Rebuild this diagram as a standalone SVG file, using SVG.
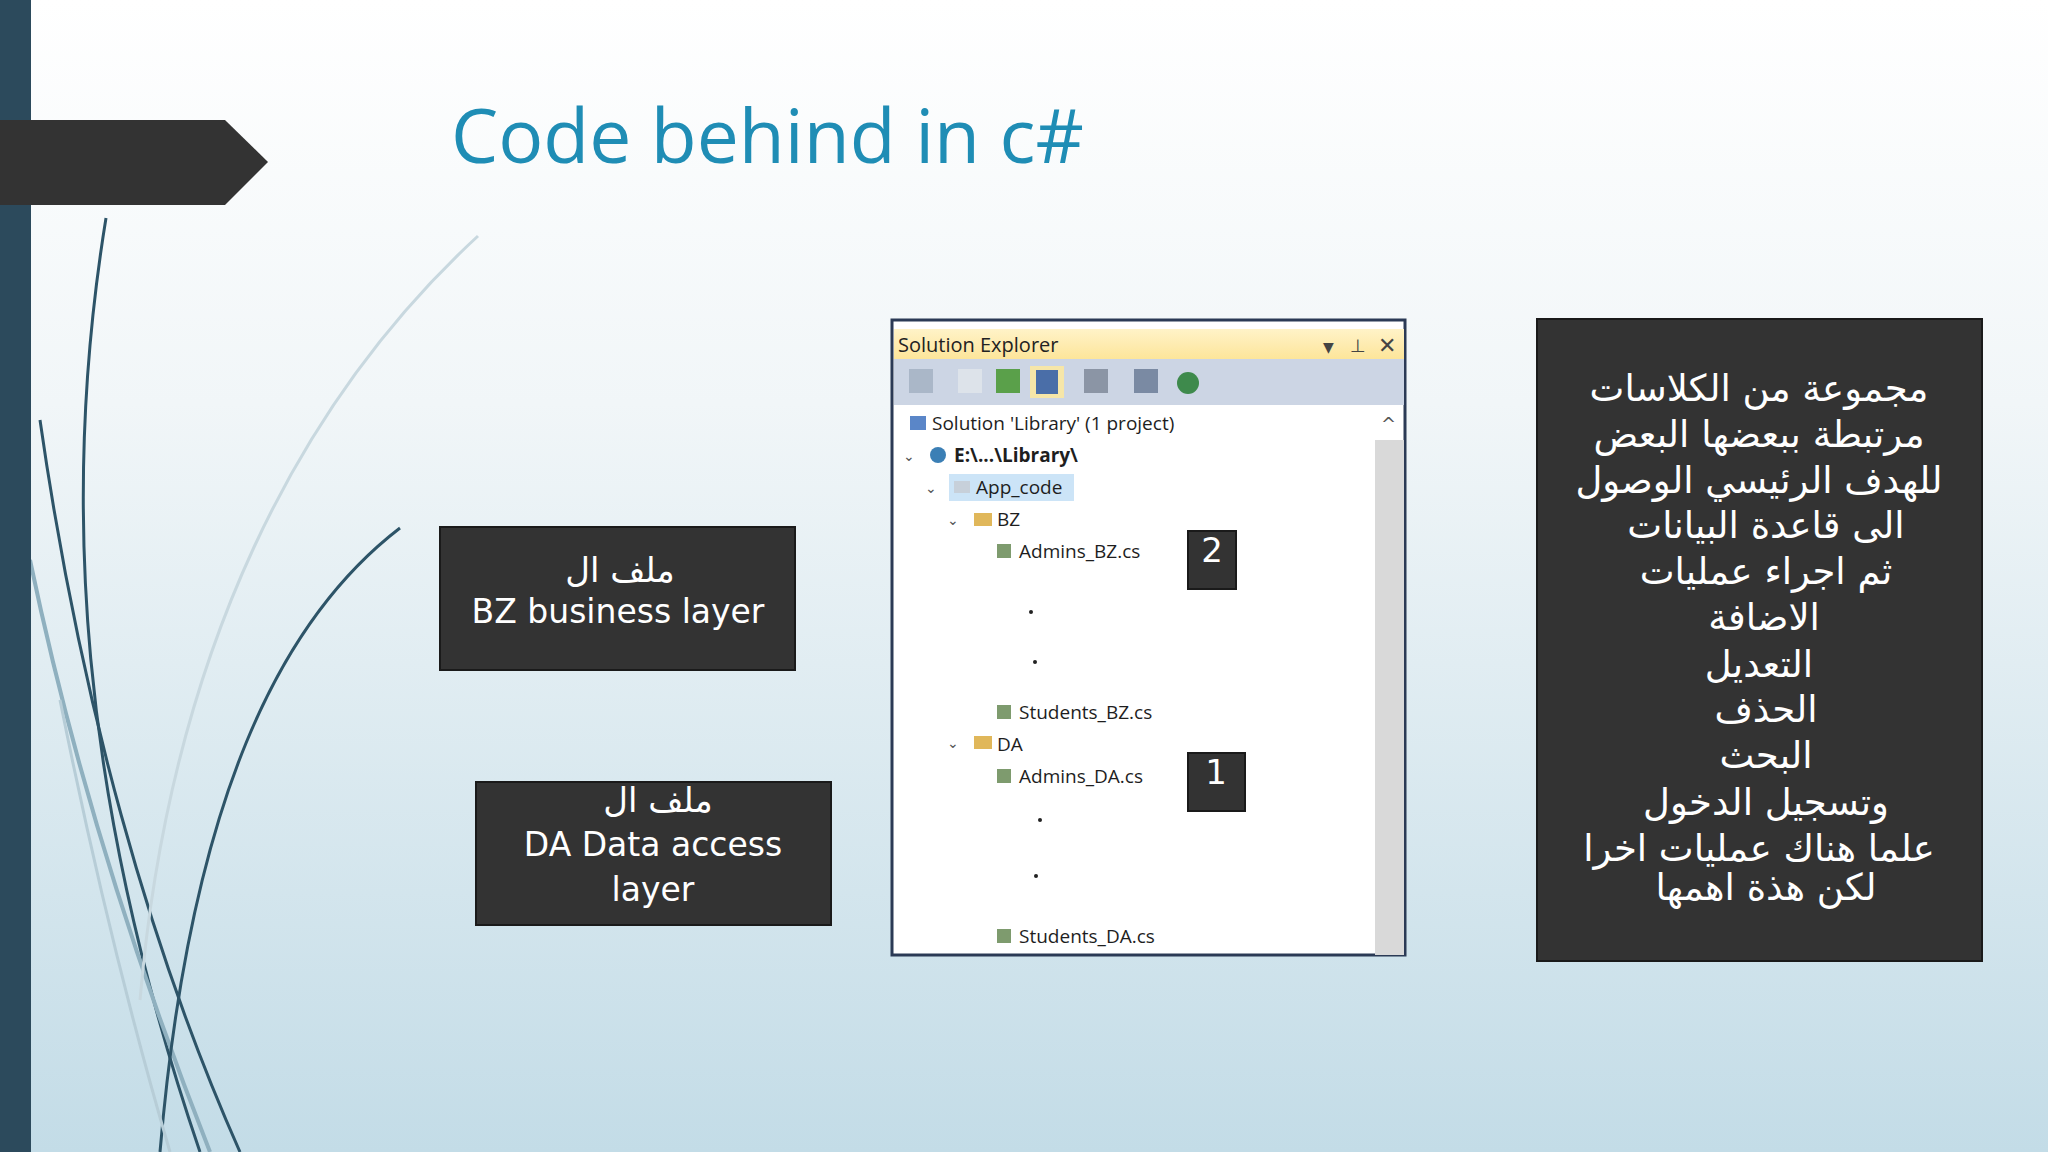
<svg xmlns="http://www.w3.org/2000/svg" width="2048" height="1152" viewBox="0 0 2048 1152">
<defs>
<linearGradient id="bg" x1="0" y1="0" x2="0" y2="1"><stop offset="0" stop-color="#ffffff"/><stop offset="0.35" stop-color="#f1f6f8"/><stop offset="1" stop-color="#c3dce7"/></linearGradient>
<linearGradient id="tb" x1="0" y1="0" x2="0" y2="1"><stop offset="0" stop-color="#fff3c8"/><stop offset="1" stop-color="#fde59a"/></linearGradient>
<style>
.box{fill:#333333;stroke:#1a1a1a;stroke-width:2}
.wt{font-family:"DejaVu Sans","Noto Sans",sans-serif;fill:#ffffff;text-anchor:middle}
.tr{font-family:"Open Sans","Noto Sans",sans-serif;font-size:19px;fill:#1e1e1e}
.dot{fill:#222}
</style>
</defs>
<rect width="2048" height="1152" fill="url(#bg)"/>
<g id="decor" fill="none">
<path d="M106 218 C 60 500 80 800 200 1152" stroke="#2d5468" stroke-width="3"/>
<path d="M40 420 C 80 700 150 950 240 1152" stroke="#2d5468" stroke-width="3"/>
<path d="M30 560 C 80 800 150 1000 210 1152" stroke="#8fb0bf" stroke-width="4"/>
<path d="M478 236 C 300 400 170 650 140 1000" stroke="#c8d8df" stroke-width="3"/>
<path d="M400 528 C 280 620 190 800 160 1152" stroke="#2d5468" stroke-width="3"/>
<path d="M60 700 C 100 900 140 1050 170 1152" stroke="#b7cdd7" stroke-width="3"/>
</g>
<rect x="0" y="0" width="31" height="1152" fill="#2c4a5c"/>
<polygon points="0,120 225,120 268,162 225,205 0,205" fill="#333333"/>
<text x="451" y="163" font-family="Open Sans,Noto Sans,sans-serif" font-size="75" fill="#1f8db5">Code behind in c#</text>
<g id="explorer">
<rect x="892" y="320" width="513" height="635" fill="#ffffff" stroke="#2b3a55" stroke-width="3"/>
<rect x="894" y="329" width="510" height="30" fill="url(#tb)"/>
<text x="898" y="352" font-family="Open Sans,Noto Sans,sans-serif" font-size="20" fill="#222">Solution Explorer</text>
<text x="1323" y="352" font-family="DejaVu Sans,sans-serif" font-size="14" fill="#444">▼</text>
<text x="1350" y="352" font-family="DejaVu Sans,sans-serif" font-size="18" fill="#444">⊥</text>
<text x="1378" y="353" font-family="DejaVu Sans,sans-serif" font-size="22" fill="#444">✕</text>
<rect x="894" y="359" width="510" height="46" fill="#ccd5e4"/>
<rect x="909" y="369" width="24" height="24" fill="#aab7c8"/>
<rect x="958" y="369" width="24" height="24" fill="#dde3ea"/>
<rect x="996" y="369" width="24" height="24" fill="#5aa04a"/>
<rect x="1030" y="366" width="34" height="32" fill="#f6e6a8"/>
<rect x="1036" y="370" width="22" height="24" fill="#4a6ea8"/>
<rect x="1084" y="369" width="24" height="24" fill="#8b95a5"/>
<rect x="1134" y="369" width="24" height="24" fill="#7a8aa3"/>
<circle cx="1188" cy="383" r="11" fill="#3e8a4c"/>
<rect x="1375" y="440" width="29" height="515" fill="#d9d9d9"/>
<text x="1381" y="430" font-family="DejaVu Sans,sans-serif" font-size="18" fill="#555">^</text>
<rect x="949" y="474" width="125" height="27" fill="#cce4f7"/>
<text x="932" y="430" class="tr">Solution 'Library' (1 project)</text>
<text x="954" y="462" class="tr" font-weight="bold">E:\...\Library\</text>
<text x="976" y="494" class="tr">App_code</text>
<text x="997" y="526" class="tr">BZ</text>
<text x="1019" y="558" class="tr">Admins_BZ.cs</text>
<text x="1019" y="719" class="tr">Students_BZ.cs</text>
<text x="997" y="751" class="tr">DA</text>
<text x="1019" y="783" class="tr">Admins_DA.cs</text>
<text x="1019" y="943" class="tr">Students_DA.cs</text>
<g font-family="DejaVu Sans,sans-serif" font-size="14" fill="#555">
<text x="903" y="461">⌄</text><text x="925" y="493">⌄</text><text x="947" y="525">⌄</text><text x="947" y="748">⌄</text>
</g>
<rect x="910" y="416" width="16" height="14" fill="#5a86c8"/>
<circle cx="938" cy="455" r="8" fill="#3b7fb5"/>
<rect x="954" y="481" width="16" height="12" fill="#c7d0da"/>
<rect x="974" y="513" width="18" height="13" fill="#e0b75a"/>
<rect x="974" y="736" width="18" height="13" fill="#e0b75a"/>
<g fill="#7e9b6e"><rect x="997" y="544" width="14" height="14"/><rect x="997" y="705" width="14" height="14"/><rect x="997" y="769" width="14" height="14"/><rect x="997" y="929" width="14" height="14"/></g>
<circle class="dot" cx="1031" cy="612" r="2"/><circle class="dot" cx="1035" cy="662" r="2"/>
<circle class="dot" cx="1040" cy="820" r="2"/><circle class="dot" cx="1036" cy="876" r="2"/>
</g>
<g id="n2"><rect class="box" x="1188" y="531" width="48" height="58"/><text class="wt" x="1212" y="562" font-size="34">2</text></g>
<g id="n1"><rect class="box" x="1188" y="753" width="57" height="58"/><text class="wt" x="1216" y="784" font-size="34">1</text></g>
<g id="bz"><rect class="box" x="440" y="527" width="355" height="143"/>
<text class="wt" x="620" y="582" font-size="34">ملف ال</text>
<text class="wt" x="618" y="623" font-size="33">BZ business layer</text></g>
<g id="da"><rect class="box" x="476" y="782" width="355" height="143"/>
<text class="wt" x="658" y="812" font-size="34">ملف ال</text>
<text class="wt" x="653" y="856" font-size="33">DA Data access</text>
<text class="wt" x="653" y="901" font-size="33">layer</text></g>
<g id="desc"><rect class="box" x="1537" y="319" width="445" height="642"/>
<g class="wt" font-size="37">
<text x="1759" y="401">مجموعة من الكلاسات</text>
<text x="1759" y="447">مرتبطة ببعضها البعض</text>
<text x="1759" y="493">للهدف الرئيسي الوصول</text>
<text x="1766" y="538">الى قاعدة البيانات</text>
<text x="1766" y="584">ثم اجراء عمليات</text>
<text x="1764" y="630">الاضافة</text>
<text x="1759" y="677">التعديل</text>
<text x="1766" y="722">الحذف</text>
<text x="1766" y="768">البحث</text>
<text x="1766" y="815">وتسجيل الدخول</text>
<text x="1759" y="861">علما هناك عمليات اخرا</text>
<text x="1766" y="900">لكن هذة اهمها</text>
</g></g>
</svg>
